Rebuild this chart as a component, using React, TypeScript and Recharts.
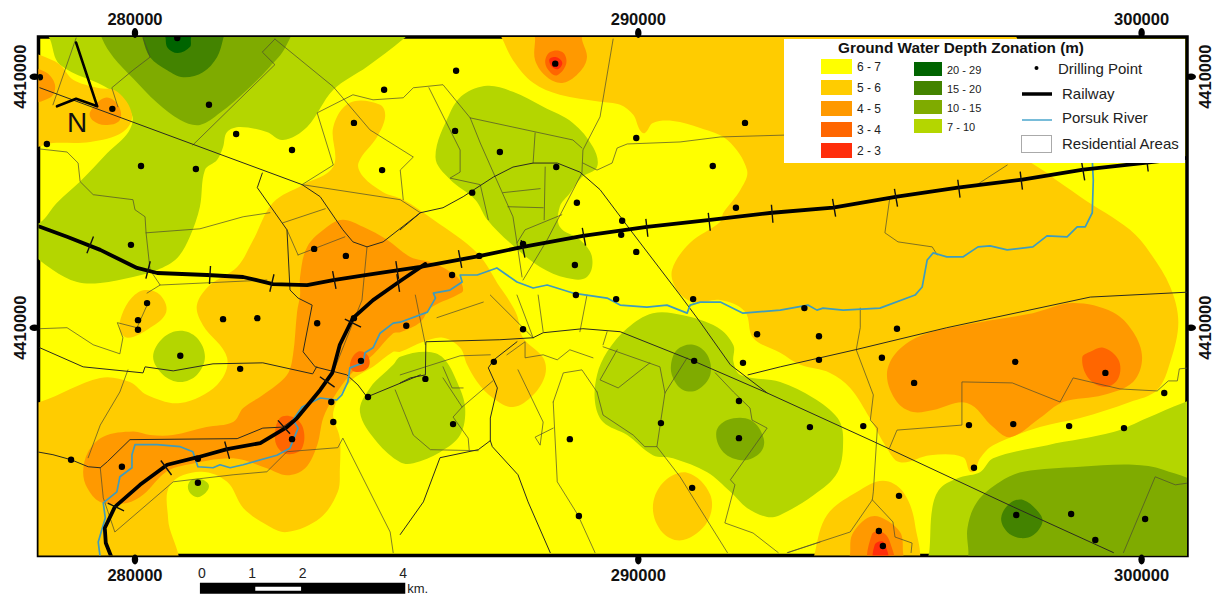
import { Legend, ReferenceArea, ReferenceDot, Scatter, ScatterChart, XAxis, YAxis } from 'recharts';

// easting in km, northing in km above 4400000 (the sheet labels both northing ticks 4410000)
type Tuple = number[];

const eastingTicks = [280, 290, 300];
const northingTicks = [10, 15];
const northingLabels = ['4410000', '4410000'];
const eastDomain = [278.083, 300.902];
const northDomain = [5.462, 15.791];

const depthWetColors = { d7: '#B4D600', d10: '#7FAB00', d15: '#438300', d20: '#006400' };
const depthDryColors = { d6: '#FFFF00', d5: '#FFCC00', d4: '#FF9900', d3: '#FF6600', d2: '#FF2D0A' };

const dryLegend = [
  { label: '6 - 7', color: depthDryColors.d6 },
  { label: '5 - 6', color: depthDryColors.d5 },
  { label: '4 - 5', color: depthDryColors.d4 },
  { label: '3 - 4', color: depthDryColors.d3 },
  { label: '2 - 3', color: depthDryColors.d2 },
];
const wetLegend = [
  { label: '20 - 29', color: depthWetColors.d20 },
  { label: '15 - 20', color: depthWetColors.d15 },
  { label: '10 - 15', color: depthWetColors.d10 },
  { label: '7 - 10', color: depthWetColors.d7 },
];

const zone7to10: Tuple[][] = [
  [[278.21,15.93],[285.47,15.93],[285.33,15.75],[284.61,15.2],[283.94,14.74],[283.42,14],[282.94,13.74],[282.62,13.9],[282.09,14],[281.83,13.9],[281.75,13.6],[281.63,13.34],[281.39,13.14],[281.29,12.41],[281.09,11.81],[280.84,11.39],[280.44,11.15],[279.96,11.01],[279.31,10.89],[278.85,10.91],[278.37,11.15],[277.82,11.65],[277.82,12.05],[278.11,12.09],[278.45,12.49],[278.91,12.91],[279.45,13.48],[279.87,13.9],[279.94,14.24],[279.51,14.74],[278.51,15.24],[278.31,15.75]],
  [[285.97,13.4],[286.26,14.28],[286.52,14.64],[287,14.82],[287.51,14.7],[288.11,14.4],[288.7,14.08],[289.1,13.6],[289.18,13.2],[288.88,13],[288.64,12.68],[288.44,12.41],[288.44,12.01],[288.84,11.75],[289.08,11.41],[288.98,11.01],[288.58,10.99],[288.05,11.21],[287.45,11.69],[287,12.15],[286.76,12.55],[286.26,12.95]],
  [[280.36,9.42],[280.56,9.8],[280.9,9.94],[281.23,9.8],[281.39,9.42],[281.23,9.06],[280.9,8.92],[280.56,9.06]],
  [[281.05,6.83],[281.13,6.97],[281.35,6.97],[281.47,6.83],[281.29,6.63],[281.13,6.67]],
  [[285.27,9.42],[285.8,9.52],[286.12,9.4],[286.4,8.92],[286.56,8.4],[286.46,7.86],[286.06,7.52],[285.53,7.3],[285.27,7.32],[284.81,7.72],[284.47,8.32],[284.67,8.8],[285.13,9.26]],
  [[289.18,9.06],[289.38,9.52],[289.78,9.99],[290.29,10.29],[290.89,10.25],[291.57,10.01],[291.89,9.65],[291.89,9.32],[292.03,9.06],[292.82,8.92],[293.48,8.6],[293.96,8.2],[294.07,7.8],[293.96,7.12],[293.48,6.66],[292.82,6.27],[292.56,6.23],[292.16,6.41],[291.83,6.73],[291.37,7.12],[290.69,7.4],[290.29,7.46],[289.78,7.86],[289.3,8.12],[289.14,8.52]],
  [[301.16,8.56],[300.82,8.5],[300.11,8.2],[299.44,7.92],[298.13,7.66],[297.05,7.4],[296.79,7.12],[296.4,7.02],[296,6.8],[295.84,6.4],[295.78,5.52],[295.7,5.18],[301.16,5.18]],
];
const zone10to15: Tuple[][] = [
  [[279.31,16.03],[279.35,15.75],[279.57,15.39],[279.96,14.97],[280.44,14.48],[280.9,14.14],[281.29,14.04],[281.69,14.28],[282.23,14.74],[282.68,15.2],[282.98,15.57],[283.08,16.03]],
  [[290.65,9.26],[290.77,9.56],[291.09,9.66],[291.37,9.46],[291.43,9.06],[291.17,8.76],[290.89,8.76],[290.69,9]],
  [[291.55,7.92],[291.77,8.16],[292.23,8.16],[292.49,7.8],[292.43,7.52],[292.09,7.36],[291.69,7.52]],
  [[296.56,5.18],[296.56,5.52],[296.54,6.01],[296.73,6.53],[297.19,6.93],[297.65,7.13],[298.78,7.23],[299.83,7.27],[300.43,7.17],[301.16,6.77],[301.16,5.18]],
];
const zone15to20: Tuple[][] = [
  [[280.16,16.03],[280.16,15.75],[280.3,15.39],[280.64,15.13],[280.96,14.99],[281.35,15.09],[281.63,15.39],[281.75,15.75],[281.79,16.03]],
  [[297.21,6.21],[297.39,6.51],[297.65,6.57],[297.95,6.33],[298.03,6.13],[297.85,5.87],[297.59,5.81],[297.33,5.93]],
];
const zone20to29: Tuple[][] = [
  [[280.61,16.03],[280.61,15.75],[280.65,15.57],[280.85,15.47],[281.09,15.59],[281.11,15.75],[281.13,16.03]],
];
const zone5to6: Tuple[][] = [
  [[287.15,16.03],[297.19,16.03],[297.59,13.54],[298.12,13.08],[298.78,12.61],[299.77,11.95],[300.17,11.49],[300.57,10.81],[300.73,10.11],[300.57,9.32],[300.31,8.76],[299.77,8.52],[298.78,8.2],[297.98,8.02],[297.05,7.66],[296.79,7.4],[296.63,7.12],[296.45,7.42],[295.8,7.46],[295.2,7.32],[294.94,7.6],[294.6,8.2],[294.21,8.8],[293.81,9.1],[293.22,9.26],[292.82,9.5],[292.28,9.8],[292.12,10.32],[291.63,10.55],[291.09,10.51],[290.77,10.75],[290.67,11.15],[291.03,11.69],[291.63,12.11],[291.69,12.29],[292.03,12.75],[292.16,13.14],[291.77,13.74],[291.23,13.98],[290.69,14.12],[290.29,14.08],[290.13,13.88],[290.03,13.94],[289.9,14.24],[289.64,14.44],[289.24,14.5],[288.44,14.64],[287.91,14.88],[287.51,15.33],[287.29,15.77]],
  [[284.27,14.48],[284.87,14.44],[284.97,14.2],[284.81,13.8],[284.44,13.28],[284.54,13],[284.93,12.7],[285.33,12.55],[285.93,12.15],[286.8,11.49],[287.25,10.81],[287.39,10.61],[287.59,10.25],[287.71,9.8],[288.11,9.4],[288.15,9.06],[287.91,8.66],[287.51,8.42],[287.11,8.6],[286.8,8.92],[286.6,9.26],[286.46,9.6],[286.12,9.8],[285.73,9.72],[285.27,9.52],[285.13,9.52],[284.73,9.22],[284.27,8.92],[283.94,8.32],[284.07,7.8],[284.07,7.17],[284.03,6.73],[283.68,6.21],[283.02,5.93],[282.62,6.07],[282.15,6.41],[281.83,6.93],[281.29,7.13],[280.7,6.87],[280.66,6.17],[280.76,5.18],[277.82,5.18],[277.82,8.52],[278.11,8.52],[279.31,9],[279.9,8.92],[280.24,8.66],[280.9,8.5],[281.63,8.86],[281.83,9.4],[281.35,10.05],[281.23,10.45],[281.49,10.85],[282.03,11.21],[282.35,11.75],[282.74,12.49],[283.34,12.85],[283.94,13.21],[283.94,14]],
  [[280.2,10.75],[280.5,10.65],[280.62,10.31],[280.3,10],[279.86,9.8],[279.7,9.96],[279.74,10.26],[279.94,10.6]],
  [[277.82,15.53],[278.11,15.43],[278.51,15.24],[278.77,14.94],[279.25,14.78],[279.65,14.7],[279.94,14.24],[279.76,13.9],[279.11,13.7],[278.37,13.68],[277.82,13.64]],
  [[290.97,7.11],[291.43,6.67],[291.37,6.13],[290.89,5.77],[290.49,5.91],[290.29,6.41],[290.49,6.91]],
  [[293.51,5.18],[293.51,5.52],[293.75,6.27],[294.35,6.73],[294.86,6.95],[295.26,6.73],[295.5,6.07],[295.46,5.18]],
];
const zone4to5: Tuple[][] = [
  [[283.28,11.01],[283.42,11.61],[283.82,12.01],[284.13,12.15],[284.53,12.01],[285.01,11.75],[285.47,11.41],[285.93,11.29],[286.4,11.01],[286.52,10.75],[286.4,10.65],[285.87,10.39],[285.67,10.11],[285.27,9.91],[285.13,9.89],[284.73,9.46],[284.27,9.06],[283.94,8.6],[283.74,8.2],[283.62,7.66],[283.38,7.2],[283.02,7.06],[282.62,7.2],[281.95,7.4],[281.03,7.27],[280.62,7.13],[280.16,6.67],[279.84,6.51],[279.31,6.53],[279.05,6.81],[278.97,7.13],[279.07,7.53],[279.37,7.83],[279.96,7.93],[280.3,7.86],[280.75,7.86],[281.42,8.02],[281.95,8.12],[282.15,8.4],[282.54,8.66],[283.02,9.06],[283.14,9.46],[283.22,10.31],[283.28,10.65]],
  [[294.94,9.06],[295.14,9.52],[295.66,9.86],[296.79,10.11],[297.84,10.29],[298.63,10.49],[299.43,10.31],[299.83,9.92],[300.01,9.4],[299.83,8.92],[299.24,8.66],[298.44,8.52],[297.98,8.2],[297.39,7.82],[297.05,8.02],[296.53,8.5],[295.86,8.36],[295.46,8.32],[295.14,8.52]],
  [[287.95,16.03],[287.95,15.75],[287.95,15.33],[288.19,14.99],[288.51,14.88],[288.84,15.1],[288.98,15.39],[288.88,15.75],[288.88,16.03]],
  [[294.21,5.18],[294.21,5.52],[294.25,5.88],[294.55,6.21],[294.8,6.23],[295.2,5.93],[295.26,5.52],[295.26,5.18]],
  [[277.82,15.14],[278.21,15.1],[278.41,14.84],[278.31,14.58],[277.82,14.54]],
  [[279.11,14.3],[279.41,14.58],[279.66,14.44],[279.7,14.14],[279.41,14.04],[279.15,14.14]],
];
const zone3to4: Tuple[][] = [
  [[282.78,7.8],[282.88,8.2],[283.14,8.22],[283.34,8],[283.32,7.6],[283.08,7.48],[282.88,7.56]],
  [[284.27,9.26],[284.43,9.52],[284.63,9.44],[284.63,9.2],[284.37,9.12]],
  [[298.82,9.4],[298.98,9.52],[299.24,9.6],[299.54,9.36],[299.54,9],[299.28,8.82],[298.94,9]],
  [[288.15,15.29],[288.25,15.49],[288.49,15.49],[288.57,15.27],[288.39,15.03],[288.25,15.09]],
  [[294.6,5.18],[294.64,5.88],[294.84,5.93],[295,5.73],[295.06,5.18]],
];
const zone2to3: Tuple[][] = [
  [[288.23,15.33],[288.37,15.39],[288.49,15.27],[288.37,15.15]],
  [[294.7,5.18],[294.7,5.68],[294.88,5.72],[294.96,5.18]],
];

const drillingPoints: Tuple[] = [
  [280.84,15.77],[278.11,14.99],[279.55,14.36],[278.25,13.66],[281.47,14.44],[282.01,13.86],[283.12,13.54],[280.12,13.22],[281.21,13.16],[284.95,14.74],[284.35,14.08],[284.91,13.14],[279.92,11.65],[283.56,11.57],[284.19,11.43],
  [286.38,15.12],[288.35,15.26],[286.36,13.92],[287.25,13.5],[289.96,13.78],[292.12,14.08],[291.48,13.22],[288.37,13.2],[286.7,12.69],[288.78,12.49],[291.94,12.39],[289.68,12.13],[289.66,11.85],[289.96,11.51],[287.71,11.67],[286.84,11.43],[286.3,11.05],[288.74,11.25],[288.76,10.65],[289.56,10.57],[291.09,10.57],
  [280.24,10.49],[280.06,10.15],[280.06,9.96],[281.75,10.17],[282.43,10.19],[283.62,10.09],[284.35,10.19],[285.39,10.04],[280.9,9.44],[282.09,9.18],[284.49,9.34],[284.63,8.62],[283.9,8.52],[283.94,8.12],[283.12,7.78],[278.73,7.37],[279.74,7.23],[281.25,7.39],[281.25,6.91],
  [287.71,9.97],[292.36,9.87],[293.59,9.83],[287.13,9.32],[292.08,9.3],[291.11,9.34],[293.59,9.36],[285.77,8.98],[292,8.54],[286.32,8.08],[290.45,8.1],[293.41,8.02],[288.64,7.78],[292,7.8],[291.07,6.81],[288.82,6.25],[293.3,10.39],
  [295.14,9.98],[294.84,9.4],[295.48,8.9],[297.49,9.32],[299.28,9.1],[294.47,8.04],[296.57,8.06],[297.45,8.08],[298.56,8.04],[299.65,8],[300.45,8.7],[296.67,7.21],[295.18,6.65],[297.51,6.27],[298.6,6.29],[300.07,6.19],[299.08,5.77],[294.78,5.95],[294.86,5.65],
];

const railwayMain: Tuple[] = [[277.92,12.07],[278.11,12.01],[278.65,11.81],[279.31,11.55],[280.04,11.19],[280.44,11.09],[281.43,11.05],[282.15,11.01],[282.74,10.87],[283.42,10.85],[283.94,10.95],[284.61,11.05],[285.67,11.21],[286.86,11.43],[287.71,11.61],[288.9,11.83],[290.17,12.01],[291.43,12.15],[292.66,12.29],[293.87,12.39],[295.14,12.61],[296.35,12.79],[297.63,12.95],[298.84,13.15],[300.11,13.29],[300.96,13.39]];
const railwayBranch: Tuple[] = [[285.77,11.27],[285.27,10.93],[284.73,10.55],[284.33,10.19],[284.07,9.66],[283.92,9.1],[283.68,8.76],[283.22,8.2],[283.02,8.02],[282.49,7.7],[281.83,7.58],[281.25,7.42],[280.64,7.27],[280.1,6.87],[279.6,6.43],[279.4,6.01],[279.42,5.71],[279.54,5.41]];
const railTicks: Tuple[] = [[279.11,11.65],[280.26,11.15],[281.49,11.05],[282.72,10.89],[283.96,10.95],[285.21,11.15],[286.46,11.37],[287.71,11.57],[288.92,11.81],[290.17,11.99],[291.41,12.11],[292.66,12.27],[293.89,12.39],[295.12,12.59],[296.37,12.77],[297.61,12.93],[298.84,13.11],[300.11,13.29],[285.23,10.89],[284.33,10.09],[283.82,8.92],[282.96,8.02],[281.83,7.56],[280.62,7.21],[279.62,6.43]];

const porsukRiver: Tuple[] = [[299.02,13.34],[299.04,12.94],[299.02,12.29],[298.88,12.01],[298.72,12.01],[298.52,11.81],[298.12,11.83],[297.84,11.61],[297.33,11.55],[296.99,11.63],[296.75,11.61],[296.45,11.41],[296.13,11.41],[295.86,11.49],[295.74,11.35],[295.64,10.81],[295.5,10.65],[294.8,10.39],[294.07,10.35],[293.67,10.39],[293.55,10.35],[293.37,10.45],[292.82,10.35],[292.08,10.29],[291.63,10.51],[291.23,10.51],[291.03,10.45],[290.97,10.29],[290.57,10.45],[290.17,10.41],[289.64,10.45],[289.38,10.59],[288.7,10.69],[288.19,10.85],[287.91,10.79],[287.59,10.91],[287.19,11.19],[286.8,11.05],[286.46,11.05],[286.5,10.91],[286.26,10.75],[285.93,10.69],[285.97,10.59],[285.81,10.31],[285.27,10.11],[285.13,10.09],[284.87,9.89],[284.73,9.6],[284.57,9.5],[284.53,9.3],[284.27,9.2],[284.23,8.92],[284.11,8.66],[284.01,8.56],[283.68,8.6],[283.32,8.42],[283.14,8.16],[283.24,8],[283.08,7.6],[282.82,7.46],[282.15,7.27],[281.89,7.21],[281.69,7.27],[281.55,7.21],[281.25,7.23],[281.15,7.53],[280.9,7.63],[280.44,7.67],[280,7.67],[279.94,7.47],[279.94,7.21],[279.7,7.03],[279.64,6.73],[279.37,6.51],[279.41,6.21],[279.27,5.73],[279.31,5.41]];

const mainRoads: Tuple[][] = [
  [[278.11,14.78],[283.32,12.85],[283.68,12.61],[284.13,11.95],[284.33,11.71],[284.61,11.61],[284.93,11.71],[285.67,12.29]],
  [[285.27,11.95],[285.67,12.29],[286.12,12.39],[286.52,12.61],[287.12,13],[287.51,13.2],[287.91,13.28],[288.39,13.28],[288.84,13.1],[289.24,12.75],[289.84,11.95],[290.83,10.65],[291.23,10.11],[291.83,9.26],[292.56,8.7]],
  [[285.27,8.9],[285.47,9],[285.77,9.06],[285.78,9.72],[287.25,9.76],[287.91,9.8],[288.11,9.9],[288.9,9.98],[289.64,9.92],[291.09,9.34],[292.56,8.7],[294.7,7.72],[297.45,6.43],[299.44,5.52]],
  [[292.18,9.06],[292.82,9.22],[294.31,9.56],[296.13,10],[298.98,10.61],[300.96,10.71]],
  [[277.82,7.57],[278.37,7.47],[278.73,7.37],[279.07,7.23],[279.31,7.21],[279.45,7.33],[279.9,7.77],[282.03,7.79],[282.54,8],[282.94,8.02],[283.18,8.2]],
  [[278.11,9.6],[278.97,9.22],[280.16,9.1],[280.2,9.22],[280.76,9.14],[281.55,9.28],[282.54,9.3],[283.53,9.08],[283.61,9.22]],
  [[287.06,7.75],[287.06,8.2],[287.2,8.8],[287.02,9.2],[287.13,9.36],[287.59,9.72]],
  [[285.27,5.88],[285.73,6.53],[286.06,7.41],[286.82,7.57],[287.06,7.75],[287.1,7.63],[287.61,7.07],[287.81,6.53],[288.25,5.52]],
  [[284.61,8.62],[284.43,8.86],[284.21,9.06],[283.58,9.22],[283.34,9.52],[283.52,10.45],[283.24,10.59],[283.08,10.75],[283.02,11.95],[282.43,12.79],[282.53,13.08]],
  [[284.61,8.62],[285.67,9.06]],
];
const areaBoundaries: Tuple[][] = [
  [[278.11,9.98],[278.65,10],[279.17,9.66],[279.7,9.48],[279.76,9.8],[279.65,10.1],[280.04,10],[280.24,10.45]],
  [[279.86,9.16],[279.7,8.72],[279.31,8.06],[279.07,7.41]],
  [[279.31,7.21],[279.37,6.61],[279.6,5.93],[280.76,6.93],[281.95,7.07],[282.62,7.13],[283.02,7.53],[284.03,7.61],[284.13,7.8],[285.07,5.93],[285.13,5.52]],
  [[282.94,12.09],[283.78,12.37]],
  [[283.24,11.45],[284.17,11.81]],
  [[283.02,11.95],[283.24,11.45]],
  [[283.32,12.85],[285.27,12.55],[285.67,12.29]],
  [[284.61,11.61],[284.51,10.55],[283.94,9.12]],
  [[282.78,15.75],[283.94,14.8],[284.67,13.94],[285.53,13.4],[285.27,13.14],[285.33,12.55]],
  [[282.78,15.75],[282.53,15.49],[282.78,15.24],[281.15,13.64]],
  [[278.83,15.77],[278.37,14.44]],
  [[278.11,13.56],[278.65,13.5],[278.87,13.28],[278.91,12.91],[279.17,12.65],[279.96,12.55],[280,12.35],[280.2,12.21],[280.22,11.89],[280.3,11.15],[280.5,10.85],[280.24,10.69]],
  [[280.22,11.89],[281.29,11.97],[282.15,12.21],[282.68,12.29]],
  [[280.5,10.85],[282.62,10.95]],
  [[280.16,15.77],[280.3,15.39],[279.96,15.13],[279.54,14.78],[279.66,14.4]],
  [[283.32,12.85],[283.94,13.24],[283.62,14.28],[284.33,14.64],[284.73,14.54],[285.33,14.58],[285.53,14.78],[286.12,14.84],[286.66,14.18],[286.86,13.68],[287.16,13],[287.51,12.21],[287.59,11.69],[287.69,11.01]],
  [[285.84,14.78],[286.46,13.54],[286.46,13.1],[286.26,12.98],[286.86,12.85],[287.02,12.15]],
  [[286.66,14.18],[288.7,13.74],[288.88,13.58]],
  [[287.95,13.88],[287.91,13.28]],
  [[289.5,15.75],[289.24,14.2],[288.9,13.54],[288.88,13.08],[288.19,11.75],[287.71,10.95]],
  [[288.9,13.28],[289.18,13.14],[289.48,13.28],[289.58,13.58],[289.78,13.66],[290.83,13.7],[291.63,13.8],[293.02,13.84]],
  [[288.15,13.2],[288.13,12.15]],
  [[287.31,12.69],[288.05,12.77]],
  [[287.41,12.41],[288.11,12.39]],
  [[288.48,12.25],[287.75,11.95],[287.59,11.69]],
  [[295,12.61],[294.9,11.89],[295.16,11.71],[295.84,11.61],[295.94,11.45]],
  [[296.73,12.85],[297.33,13.24]],
  [[294.41,10.39],[294.41,10],[294.33,9.56],[294.67,8.66],[294.61,8.16],[294.75,8],[294.67,6.73],[294.65,6.57],[294.21,5.93],[292.96,5.52]],
  [[294.65,6.57],[295.06,6.13],[295.1,5.83],[295.44,5.71],[295.42,5.52]],
  [[294.99,7.6],[295.14,7.96],[296.43,8.06],[296.43,8.92],[297.43,8.9],[298.38,8.52],[298.64,9],[299.57,8.78],[300.31,8.74],[300.53,8.94],[300.71,8.94],[300.75,9.18],[300.96,9.2]],
  [[299.64,5.52],[300.27,7.03],[300.67,6.87],[300.96,6.91]],
  [[289.18,8.72],[289.3,8.26],[289.9,7.86],[290.13,7.63],[290.37,7.63],[290.53,8.7],[290.97,9.4]],
  [[289.3,9.62],[290.43,9.22],[290.53,8.7]],
  [[290.23,9.3],[289.6,8.8],[289.24,8.96],[289.58,9.56]],
  [[290.37,7.63],[290.83,7.03],[291.77,5.52]],
  [[291.53,9.1],[291.89,8.72],[292.22,8.4],[292.26,8.16],[292.56,8],[291.83,6.97],[291.92,6.87],[291.72,6.11],[292.28,5.91],[292.78,5.52]],
  [[292.98,5.52],[293.61,5.73]],
  [[288.31,8.52],[288.51,9.1],[288.88,9.16],[289.18,8.72]],
  [[288.31,8.52],[288.39,6.93],[288.8,6.27],[289.14,5.52]],
  [[288.31,8],[287.95,7.82],[288.05,7.66],[288.11,8.12],[287.61,9.16]],
  [[287.39,9.46],[287.75,9.72],[287.75,9.4],[288.11,9.46],[288.39,9.36],[288.64,9.56],[289.1,9.4]],
  [[287.06,10.65],[287.91,9.8]],
  [[287.59,10.65],[287.91,9.8]],
  [[288.01,10.65],[288.11,9.92]],
  [[288.98,10.65],[288.84,9.92]],
  [[289.38,9.92],[289.3,9.66]],
  [[285.17,8.76],[285.53,7.86],[285.87,7.57],[286.82,7.55]],
  [[286.12,9],[286.5,8.42],[286.32,8.22],[286.62,7.8],[286.64,7.57]],
  [[286.5,8.42],[287.11,8.94]],
  [[285.27,9.06],[285.77,9.22],[286.46,9.44],[287.06,9.46]],
  [[286.12,9.22],[286.3,8.8],[286.52,8.8]],
  [[285.57,10.65],[285.77,9.66]],
  [[286,10.2],[286.92,10.51]],
];

const northArrow: Tuple[] = [[278.83,15.68],[279.25,14.41],[278.83,14.56],[278.45,14.41]];
const northLabel = [278.85, 14.08];

const scaleZero = 281.33;
const scaleStops = [0, 1, 2, 4];
const scaleBarNorth = [4.7, 4.92];
const scaleGapNorth = [4.76, 4.84];
const scaleLabelNorth = 5.12;

const toPoints = (list: Tuple[]) => list.map(([x, y]) => ({ x, y }));
const FONT = '"Liberation Sans", Arial, sans-serif';
const noMark = () => <g />;

// closed spline through the traced contour vertices, handles kept to a third of each chord
const contourCurve = (context: any) => {
  let pts: number[][] = [];
  const tangent = (a: number[], b: number[]) => {
    const l = Math.hypot(b[0] - a[0], b[1] - a[1]) || 1;
    return [(b[0] - a[0]) / l, (b[1] - a[1]) / l];
  };
  return {
    areaStart() {},
    areaEnd() {},
    lineStart() {
      pts = [];
    },
    point(x: number, y: number) {
      pts.push([x, y]);
    },
    lineEnd() {
      const n = pts.length;
      context.moveTo(pts[0][0], pts[0][1]);
      for (let i = 0; i < n; i++) {
        const p0 = pts[(i - 1 + n) % n];
        const p1 = pts[i];
        const p2 = pts[(i + 1) % n];
        const p3 = pts[(i + 2) % n];
        const h = Math.hypot(p2[0] - p1[0], p2[1] - p1[1]) / 3;
        const t1 = tangent(p0, p2);
        const t2 = tangent(p1, p3);
        context.bezierCurveTo(p1[0] + t1[0] * h, p1[1] + t1[1] * h, p2[0] - t2[0] * h, p2[1] - t2[1] * h, p2[0], p2[1]);
      }
      context.closePath();
    },
  };
};

function RailTick({ cx, cy, payload }: any) {
  // lean each sleeper mark across the nearest stretch of track
  let best = Infinity;
  let dx = 1;
  let dy = 0;
  [railwayMain, railwayBranch].forEach((track) => {
    for (let i = 0; i < track.length - 1; i++) {
      const mx = (track[i][0] + track[i + 1][0]) / 2;
      const my = (track[i][1] + track[i + 1][1]) / 2;
      const d = (mx - payload.x) ** 2 + (my - payload.y) ** 2;
      if (d < best) {
        best = d;
        dx = track[i + 1][0] - track[i][0];
        dy = track[i + 1][1] - track[i][1];
      }
    }
  });
  const len = Math.hypot(dx, dy);
  const nx = (dy / len) * 9;
  const ny = (dx / len) * 9;
  return <line x1={cx - nx} y1={cy - ny} x2={cx + nx} y2={cy + ny} stroke="#111" strokeWidth={1.4} />;
}

function EastTick({ x, y, payload, side }: any) {
  const up = side === 'top';
  return (
    <g>
      <ellipse cx={x} cy={up ? y - 4 : y + 4} rx={3.2} ry={5} fill="#000" />
      <text x={x} y={up ? y - 18 : y + 19} textAnchor="middle" dominantBaseline="central" fontFamily={FONT} fontWeight="bold" fontSize={16.5} fill="#111">
        {payload.value * 1000}
      </text>
    </g>
  );
}

function NorthTick({ x, y, payload, index, side }: any) {
  const left = side === 'left';
  const labelX = left ? 20 : 1205;
  return (
    <g>
      <ellipse cx={left ? x - 4 : x + 4} cy={y} rx={5} ry={3.2} fill="#000" />
      <text x={labelX} y={y} transform={`rotate(-90 ${labelX} ${y})`} textAnchor="middle" dominantBaseline="central" fontFamily={FONT} fontWeight="bold" fontSize={16.5} fill="#111">
        {northingLabels[northingTicks.indexOf(payload.value)] ?? northingLabels[index]}
      </text>
    </g>
  );
}

function MapKey() {
  const text = { fontFamily: FONT, dominantBaseline: 'central' as const, fill: '#222' };
  return (
    <svg width={401} height={124} style={{ display: 'block', background: '#fff' }}>
      <text {...text} x={177} y={8} textAnchor="middle" fontWeight="bold" fontSize={15.3} fill="#111">
        Ground Water Depth Zonation (m)
      </text>
      {dryLegend.map((d, i) => (
        <g key={d.label}>
          <rect x={37} y={20 + i * 21} width={31} height={15} fill={d.color} />
          <text {...text} x={73} y={28 + i * 21} fontSize={12}>{d.label}</text>
        </g>
      ))}
      {wetLegend.map((d, i) => (
        <g key={d.label}>
          <rect x={130} y={23 + i * 19} width={28} height={14} fill={d.color} />
          <text {...text} x={163} y={31 + i * 19} fontSize={11}>{d.label}</text>
        </g>
      ))}
      <circle cx={252.5} cy={29} r={2} fill="#000" />
      <text {...text} x={274} y={29} fontSize={15}>Drilling Point</text>
      <line x1={238} x2={268} y1={55} y2={55} stroke="#000" strokeWidth={3.5} />
      <text {...text} x={278} y={54} fontSize={15}>Railway</text>
      <line x1={238} x2={268} y1={81} y2={81} stroke="#4BA6CC" strokeWidth={1.5} />
      <text {...text} x={278} y={78} fontSize={15}>Porsuk River</text>
      <rect x={237.5} y={96.5} width={30} height={17} fill="#fff" stroke="#aaa" />
      <text {...text} x={278} y={104} fontSize={15}>Residential Areas</text>
    </svg>
  );
}

function ZoneLayer({ shapes, color, name }: { shapes: Tuple[][]; color: string; name: string }) {
  return (
    <>
      {shapes.map((shape, i) => (
        <Scatter
          key={`${name}-${i}`}
          data={toPoints(shape)}
          fill={color}
          line={{ fill: color, stroke: 'none' }}
          lineJointType={contourCurve as any}
          shape={noMark}
          isAnimationActive={false}
        />
      ))}
    </>
  );
}

function PathLayer({ paths, color, width, name }: { paths: Tuple[][]; color: string; width: number; name: string }) {
  return (
    <>
      {paths.map((path, i) => (
        <Scatter
          key={`${name}-${i}`}
          data={toPoints(path)}
          line={{ stroke: color, strokeWidth: width, strokeLinejoin: 'round', strokeLinecap: 'round' }}
          lineJointType="linear"
          shape={noMark}
          isAnimationActive={false}
        />
      ))}
    </>
  );
}

export default function App() {
  return (
    <div style={{ position: 'absolute', left: 0, top: 0, width: 1213, height: 595, background: '#fff' }}>
      <ScatterChart width={1213} height={595} margin={{ top: 0, right: 0, bottom: 0, left: 0 }}>
        <XAxis type="number" dataKey="x" xAxisId={0} orientation="bottom" height={39.5} domain={eastDomain} ticks={eastingTicks} allowDataOverflow axisLine={false} tickLine={false} tickSize={0} tickMargin={0} interval={0} tick={<EastTick side="bottom" />} />
        <XAxis type="number" dataKey="x" xAxisId="top" orientation="top" height={37} domain={eastDomain} ticks={eastingTicks} allowDataOverflow axisLine={false} tickLine={false} tickSize={0} tickMargin={0} interval={0} tick={<EastTick side="top" />} />
        <YAxis type="number" dataKey="y" yAxisId={0} orientation="left" width={38.5} domain={northDomain} ticks={northingTicks} allowDataOverflow axisLine={false} tickLine={false} tickSize={0} tickMargin={0} interval={0} tick={<NorthTick side="left" />} />
        <YAxis type="number" dataKey="y" yAxisId="right" orientation="right" width={26} domain={northDomain} ticks={northingTicks} allowDataOverflow axisLine={false} tickLine={false} tickSize={0} tickMargin={0} interval={0} tick={<NorthTick side="right" />} />

        <ReferenceArea x1={eastDomain[0]} x2={eastDomain[1]} y1={northDomain[0]} y2={northDomain[1]} fill={depthDryColors.d6} fillOpacity={1} stroke="none" />

        <ZoneLayer name="d7" shapes={zone7to10} color={depthWetColors.d7} />
        <ZoneLayer name="d10" shapes={zone10to15} color={depthWetColors.d10} />
        <ZoneLayer name="d15" shapes={zone15to20} color={depthWetColors.d15} />
        <ZoneLayer name="d20" shapes={zone20to29} color={depthWetColors.d20} />
        <ZoneLayer name="d5" shapes={zone5to6} color={depthDryColors.d5} />
        <ZoneLayer name="d4" shapes={zone4to5} color={depthDryColors.d4} />
        <ZoneLayer name="d3" shapes={zone3to4} color={depthDryColors.d3} />
        <ZoneLayer name="d2" shapes={zone2to3} color={depthDryColors.d2} />

        <PathLayer name="area" paths={areaBoundaries} color="#4a4a30" width={0.7} />
        <PathLayer name="road" paths={mainRoads} color="#2b2b20" width={1} />
        <PathLayer name="river" paths={[porsukRiver]} color="#3E9CBE" width={1.7} />
        <PathLayer name="rail" paths={[railwayMain, railwayBranch]} color="#000" width={3.8} />
        <Scatter data={toPoints(railTicks)} shape={<RailTick />} isAnimationActive={false} />
        <Scatter data={toPoints(drillingPoints)} fill="#000" shape={(p: any) => <circle cx={p.cx} cy={p.cy} r={3.2} fill="#000" />} isAnimationActive={false} />
        <PathLayer name="north" paths={[northArrow]} color="#000" width={2.6} />
        <ReferenceDot x={northLabel[0]} y={northLabel[1]} ifOverflow="visible" shape={(p: any) => (
          <text x={p.cx} y={p.cy} textAnchor="middle" dominantBaseline="central" fontFamily={FONT} fontSize={28} fill="#111">N</text>
        )} />

        <ReferenceArea x1={eastDomain[0]} x2={eastDomain[1]} y1={northDomain[0]} y2={northDomain[1]} fill="none" stroke="#000" strokeWidth={3.5} ifOverflow="visible" />

        <ReferenceArea x1={scaleZero - 0.04} x2={scaleZero + 4.04} y1={scaleBarNorth[0]} y2={scaleBarNorth[1]} fill="#000" fillOpacity={1} stroke="none" ifOverflow="visible" />
        <ReferenceArea x1={scaleZero + 1.06} x2={scaleZero + 1.97} y1={scaleGapNorth[0]} y2={scaleGapNorth[1]} fill="#fff" fillOpacity={1} stroke="none" ifOverflow="visible" />
        {scaleStops.map((km) => (
          <ReferenceDot key={km} x={scaleZero + km} y={scaleLabelNorth} ifOverflow="visible" shape={(p: any) => (
            <text x={p.cx} y={p.cy} textAnchor="middle" dominantBaseline="central" fontFamily={FONT} fontSize={14} fill="#222">{km}</text>
          )} />
        ))}
        <ReferenceDot x={scaleZero + 4.08} y={scaleBarNorth[0] + 0.1} ifOverflow="visible" shape={(p: any) => (
          <text x={p.cx} y={p.cy} textAnchor="start" dominantBaseline="central" fontFamily={FONT} fontSize={13} fill="#222">km.</text>
        )} />

        <Legend
          layout="horizontal"
          verticalAlign="middle"
          align="center"
          content={<MapKey />}
          wrapperStyle={{ left: 784, top: 39, width: 401, height: 124 }}
        />
      </ScatterChart>
    </div>
  );
}
